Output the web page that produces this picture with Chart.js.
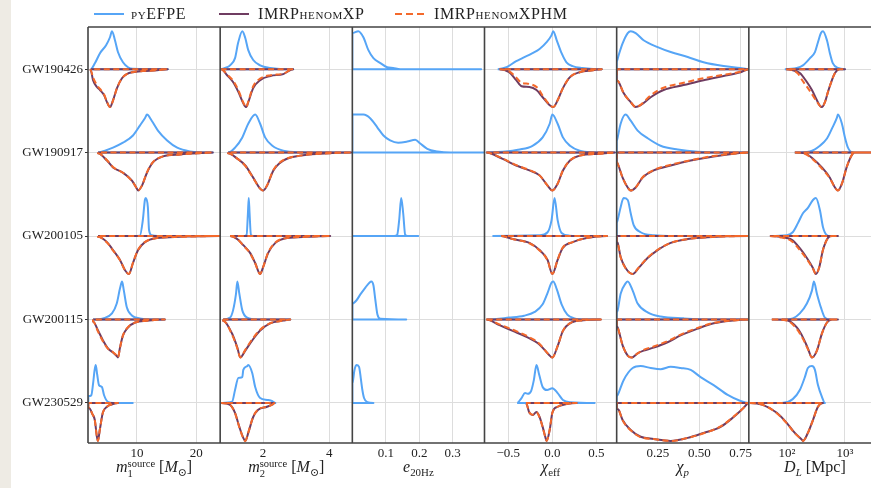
<!DOCTYPE html>
<html>
<head>
<meta charset="utf-8">
<script src="https://cdn.jsdelivr.net/npm/chart.js@4.4.1/dist/chart.umd.min.js"></script>
<style>
html, body { margin: 0; padding: 0; background: #fff; overflow: hidden; }
body { width: 871px; height: 488px; position: relative; font-family: "Liberation Serif", "DejaVu Serif", serif; color: #222; }
#strip { position: absolute; left: 0; top: 0; width: 11px; height: 488px; background: #eeebe4; z-index: 2; }
#wrap { position: absolute; left: 0; top: 0; width: 893px; height: 488px; }
.item { position: absolute; top: 4px; white-space: nowrap; line-height: 20px; font-size: 16px; letter-spacing: 0.6px; font-variant: small-caps; }
.swatch { position: absolute; top: 13px; width: 30px; height: 0; border-top: 2px solid; }
.xt { position: absolute; top: 457px; font-size: 16px; line-height: 20px; white-space: nowrap; transform: translateX(-50%); }
.xt sub { font-size: 0.68em; vertical-align: -0.35em; }
.ss { display: inline-block; vertical-align: -0.45em; font-size: 0.66em; line-height: 0.95; text-align: left; }
.ss span { display: block; }
</style>
</head>
<body>
<div id="strip"></div>
<div id="wrap"><canvas id="c" width="893" height="488"></canvas></div>
<div id="legend"></div>
<div id="titles"></div>
<script>
// events (rows) and series
const events = ['GW190426', 'GW190917', 'GW200105', 'GW200115', 'GW230529'];
const seriesNames = ['pyEFPE', 'IMRPhenomXP', 'IMRPhenomXPHM'];

// tick values / labels for each column
const m1Ticks = [10, 20];
const m2Ticks = [2, 4];
const eccTicks = [0.1, 0.2, 0.3];
const chiEffTicks = [-0.5, 0, 0.5];
const chiPTicks = [0.25, 0.5, 0.75];
const distTicks = [100, 1000];
const m1TickLabels = ['10', '20'];
const m2TickLabels = ['2', '4'];
const eccTickLabels = ['0.1', '0.2', '0.3'];
const chiEffTickLabels = ['\u22120.5', '0.0', '0.5'];
const chiPTickLabels = ['0.25', '0.50', '0.75'];
const distTickLabels = ['10\u00b2', '10\u00b3'];

// posterior densities: [parameter value, density / peak] for each event
const m1Efpe = [
  [[2.2,0],[2.93,0.16],[3.77,0.42],[4.8,0.63],[5.46,0.84],[5.8,1.0],[6.3,0.76],[6.8,0.45],[7.65,0.18],[8.5,0.05],[9.3,0.01],[15.2,0]],
  [[3.44,0],[4.62,0.05],[5.97,0.13],[7.65,0.26],[9.34,0.45],[10.5,0.71],[11.4,0.92],[11.7,1.0],[12.5,0.84],[13.55,0.58],[15.1,0.32],[16.8,0.13],[18.95,0.03],[21.1,0],[22.8,0]],
  [[9.3,0],[10.5,0.01],[11.0,0.42],[11.35,0.95],[11.5,1.0],[11.85,0.76],[12.05,0.16],[12.5,0.02],[13.5,0]],
  [[2.6,0],[4.3,0.03],[5.8,0.16],[6.6,0.42],[7.15,0.82],[7.5,1.0],[7.8,0.76],[8.3,0.32],[9.2,0.1],[10.5,0.03],[12.2,0],[14.7,0]],
  [[1.8,0.18],[2.3,0.2],[2.6,0.5],[2.85,0.85],[3.05,1.0],[3.3,0.75],[3.6,0.47],[4.1,0.42],[4.45,0.21],[5.1,0.03],[6.0,0],[9.3,0]]
];
const m1Xp = [
  [[2.2,0.03],[2.6,0.29],[3.25,0.47],[3.77,0.55],[4.45,0.68],[4.95,0.87],[5.46,1.0],[5.97,0.82],[6.64,0.5],[7.48,0.24],[8.3,0.13],[9.3,0.08],[11.0,0.05],[13.4,0.03],[15.2,0]],
  [[3.44,0.02],[4.95,0.21],[5.97,0.39],[7.65,0.53],[9.17,0.74],[10.0,0.95],[10.2,1.0],[10.85,0.87],[11.7,0.53],[12.7,0.26],[14.4,0.1],[17.3,0.05],[20.2,0.02],[22.8,0]],
  [[3.44,0.02],[4.95,0.16],[5.97,0.37],[7.15,0.63],[8.0,0.9],[8.66,1.0],[9.34,0.71],[10.2,0.37],[11.35,0.16],[13.4,0.05],[17.3,0.02],[23.9,0]],
  [[2.6,0.05],[3.44,0.29],[4.28,0.55],[5.12,0.76],[5.97,0.87],[6.64,0.97],[6.8,1.0],[7.15,0.74],[7.65,0.42],[8.5,0.21],[9.7,0.08],[11.7,0.03],[14.7,0]],
  [[1.8,0.12],[2.1,0.16],[2.45,0.28],[2.9,0.45],[3.25,0.89],[3.42,1.0],[3.75,0.7],[4.25,0.26],[4.95,0.1],[5.95,0.03],[6.8,0]]
];
const m1Xphm = [
  [[2.2,0.03],[2.6,0.22],[3.25,0.42],[3.77,0.52],[4.45,0.66],[4.95,0.86],[5.46,1.0],[5.97,0.83],[6.64,0.5],[7.48,0.24],[8.3,0.13],[9.3,0.08],[11.0,0.05],[13.4,0.03],[15.2,0]],
  [[3.44,0.02],[4.95,0.2],[5.97,0.38],[7.65,0.53],[9.17,0.75],[10.0,0.95],[10.2,1.0],[10.85,0.87],[11.7,0.52],[12.7,0.25],[14.4,0.1],[17.3,0.05],[20.2,0.02],[22.8,0]],
  [[3.44,0.02],[4.95,0.17],[5.97,0.38],[7.15,0.64],[8.0,0.9],[8.66,1.0],[9.34,0.7],[10.2,0.36],[11.35,0.16],[13.4,0.05],[17.3,0.02],[23.9,0]],
  [[2.6,0.05],[3.44,0.32],[4.28,0.58],[5.12,0.77],[5.97,0.86],[6.64,0.96],[6.8,1.0],[7.15,0.74],[7.65,0.42],[8.5,0.2],[9.7,0.08],[11.7,0.03],[14.7,0]],
  [[1.8,0.12],[2.1,0.16],[2.45,0.28],[2.9,0.46],[3.25,0.9],[3.42,1.0],[3.75,0.7],[4.25,0.26],[4.95,0.1],[5.95,0.03],[6.8,0]]
];

const m2Efpe = [
  [[0.73,0],[0.91,0.05],[1.0,0.1],[1.15,0.29],[1.24,0.68],[1.37,1.0],[1.46,0.82],[1.55,0.5],[1.7,0.24],[1.91,0.1],[2.22,0.03],[2.61,0],[2.91,0]],
  [[0.94,0],[1.15,0.13],[1.37,0.4],[1.55,0.76],[1.76,1.0],[1.91,0.76],[2.06,0.4],[2.28,0.18],[2.61,0.05],[3.12,0.01],[4.64,0]],
  [[1.4,0],[1.5,0.03],[1.54,0.6],[1.565,1.0],[1.59,0.6],[1.63,0.03],[1.75,0]],
  [[0.79,0],[1.0,0.05],[1.09,0.24],[1.18,0.68],[1.22,1.0],[1.28,0.68],[1.37,0.24],[1.52,0.05],[1.82,0],[2.82,0]],
  [[0.76,0],[1.06,0.03],[1.15,0.34],[1.25,0.66],[1.37,0.68],[1.4,0.87],[1.52,0.97],[1.55,1.0],[1.67,0.79],[1.76,0.42],[1.91,0.13],[2.12,0.08],[2.28,0.05],[2.37,0]]
];
const m2Xp = [
  [[0.73,0],[0.91,0.16],[1.09,0.34],[1.25,0.6],[1.4,0.9],[1.49,1.0],[1.55,0.87],[1.7,0.5],[1.91,0.29],[2.22,0.18],[2.61,0.13],[2.91,0]],
  [[0.94,0.02],[1.22,0.16],[1.46,0.34],[1.7,0.66],[1.91,0.95],[2.0,1.0],[2.12,0.87],[2.31,0.47],[2.61,0.21],[3.12,0.08],[3.73,0.03],[4.69,0]],
  [[1.0,0],[1.22,0.08],[1.4,0.24],[1.61,0.45],[1.76,0.71],[1.91,1.0],[2.0,0.82],[2.15,0.45],[2.37,0.18],[2.73,0.05],[3.34,0.02],[4.03,0]],
  [[0.79,0.03],[1.06,0.37],[1.22,0.74],[1.31,1.0],[1.46,0.82],[1.67,0.55],[1.91,0.29],[2.21,0.1],[2.61,0.03],[2.82,0]],
  [[0.73,0],[1.0,0.05],[1.15,0.26],[1.28,0.63],[1.4,0.92],[1.46,1.0],[1.55,0.79],[1.7,0.37],[1.85,0.18],[2.12,0.1],[2.3,0.03],[2.34,0]]
];
const m2Xphm = [
  [[0.73,0],[0.91,0.14],[1.09,0.3],[1.25,0.55],[1.4,0.88],[1.49,1.0],[1.55,0.86],[1.7,0.45],[1.91,0.25],[2.22,0.16],[2.61,0.12],[2.91,0]],
  [[0.94,0.02],[1.22,0.16],[1.46,0.35],[1.7,0.67],[1.91,0.95],[2.0,1.0],[2.12,0.86],[2.31,0.46],[2.61,0.2],[3.12,0.08],[3.73,0.03],[4.69,0]],
  [[1.0,0],[1.22,0.08],[1.4,0.25],[1.61,0.46],[1.76,0.72],[1.91,1.0],[2.0,0.82],[2.15,0.44],[2.37,0.17],[2.73,0.05],[3.34,0.02],[4.03,0]],
  [[0.79,0.03],[1.06,0.4],[1.22,0.76],[1.31,1.0],[1.46,0.8],[1.67,0.52],[1.91,0.27],[2.21,0.1],[2.61,0.03],[2.82,0]],
  [[0.73,0],[1.0,0.05],[1.15,0.27],[1.28,0.64],[1.4,0.93],[1.46,1.0],[1.55,0.78],[1.7,0.36],[1.85,0.17],[2.12,0.1],[2.3,0.03],[2.34,0]]
];

const eccEfpe = [
  [[0,0.95],[0.018,1.0],[0.033,0.84],[0.048,0.5],[0.063,0.29],[0.084,0.16],[0.104,0.05],[0.122,0.03],[0.143,0],[0.385,0]],
  [[0,1.0],[0.033,1.0],[0.054,0.9],[0.075,0.66],[0.093,0.45],[0.113,0.32],[0.137,0.26],[0.164,0.29],[0.188,0.34],[0.203,0.24],[0.224,0.1],[0.254,0.03],[0.293,0],[0.394,0]],
  [[0,0],[0.125,0],[0.134,0.03],[0.14,0.42],[0.146,1.0],[0.152,0.6],[0.158,0.03],[0.165,0],[0.197,0]],
  [[0,0.42],[0.012,0.5],[0.024,0.66],[0.039,0.84],[0.051,0.97],[0.057,1.0],[0.063,0.9],[0.069,0.5],[0.075,0.13],[0.084,0.02],[0.161,0]],
  [[0,0.5],[0.006,0.85],[0.012,1.0],[0.02,0.95],[0.026,0.6],[0.03,0.34],[0.035,0.13],[0.045,0.02],[0.063,0]]
];

const chiEffEfpe = [
  [[-0.62,0],[-0.52,0.05],[-0.41,0.21],[-0.34,0.29],[-0.225,0.42],[-0.145,0.53],[-0.065,0.71],[-0.01,0.89],[0.01,1.0],[0.05,0.76],[0.105,0.42],[0.16,0.18],[0.23,0.08],[0.34,0.03],[0.5,0],[0.56,0]],
  [[-0.75,0],[-0.57,0.02],[-0.37,0.08],[-0.225,0.18],[-0.11,0.4],[-0.03,0.76],[0.0,1.0],[0.06,0.76],[0.12,0.4],[0.2,0.18],[0.31,0.05],[0.46,0.01],[0.71,0]],
  [[-0.68,0],[-0.145,0.02],[-0.054,0.1],[-0.009,0.42],[0.025,1.0],[0.06,0.42],[0.105,0.08],[0.196,0.01],[0.39,0]],
  [[-0.74,0],[-0.49,0.05],[-0.32,0.1],[-0.2,0.2],[-0.11,0.4],[-0.054,0.7],[-0.01,0.97],[0.01,1.0],[0.05,0.8],[0.105,0.4],[0.17,0.13],[0.25,0.03],[0.37,0],[0.54,0]],
  [[-0.4,0],[-0.35,0.13],[-0.31,0.26],[-0.28,0.24],[-0.24,0.32],[-0.21,0.6],[-0.18,1.0],[-0.15,0.75],[-0.11,0.42],[-0.06,0.34],[0.0,0.39],[0.06,0.26],[0.12,0.08],[0.2,0.02],[0.48,0]]
];
const chiEffXp = [
  [[-0.6,0],[-0.49,0.08],[-0.41,0.29],[-0.35,0.45],[-0.26,0.47],[-0.18,0.55],[-0.11,0.74],[-0.03,0.95],[0.01,1.0],[0.06,0.82],[0.12,0.5],[0.2,0.21],[0.31,0.08],[0.46,0.03],[0.56,0]],
  [[-0.75,0],[-0.57,0.16],[-0.41,0.34],[-0.26,0.47],[-0.145,0.6],[-0.054,0.87],[0.0,1.0],[0.06,0.82],[0.12,0.47],[0.2,0.21],[0.31,0.08],[0.54,0.03],[0.71,0]],
  [[-0.58,0],[-0.45,0.08],[-0.26,0.18],[-0.145,0.37],[-0.054,0.63],[0.0,1.0],[0.06,0.63],[0.116,0.32],[0.23,0.16],[0.39,0.05],[0.62,0]],
  [[-0.75,0],[-0.6,0.15],[-0.45,0.3],[-0.3,0.45],[-0.15,0.65],[-0.05,0.9],[0.0,1.0],[0.06,0.7],[0.12,0.3],[0.2,0.1],[0.35,0.02],[0.55,0]],
  [[-0.3,0],[-0.26,0.26],[-0.225,0.32],[-0.18,0.24],[-0.145,0.37],[-0.11,0.63],[-0.077,0.92],[-0.065,1.0],[-0.03,0.71],[0.0,0.26],[0.06,0.1],[0.16,0.03],[0.275,0]]
];
const chiEffXphm = [
  [[-0.6,0],[-0.49,0.06],[-0.41,0.22],[-0.35,0.36],[-0.26,0.39],[-0.16,0.51],[-0.11,0.7],[-0.03,0.94],[0.01,1.0],[0.06,0.82],[0.12,0.5],[0.2,0.21],[0.31,0.08],[0.46,0.03],[0.56,0]],
  [[-0.75,0],[-0.57,0.15],[-0.41,0.33],[-0.26,0.46],[-0.145,0.6],[-0.054,0.87],[0.0,1.0],[0.06,0.82],[0.12,0.47],[0.2,0.21],[0.31,0.08],[0.54,0.03],[0.71,0]],
  [[-0.58,0],[-0.45,0.08],[-0.26,0.19],[-0.145,0.38],[-0.054,0.64],[0.0,1.0],[0.06,0.62],[0.116,0.31],[0.23,0.16],[0.39,0.05],[0.62,0]],
  [[-0.75,0],[-0.6,0.13],[-0.45,0.27],[-0.3,0.42],[-0.15,0.63],[-0.05,0.9],[0.0,1.0],[0.06,0.7],[0.12,0.3],[0.2,0.1],[0.35,0.02],[0.55,0]],
  [[-0.3,0],[-0.26,0.25],[-0.225,0.31],[-0.18,0.25],[-0.145,0.38],[-0.11,0.64],[-0.077,0.92],[-0.065,1.0],[-0.03,0.7],[0.0,0.26],[0.06,0.1],[0.16,0.03],[0.275,0]]
];

const chiPEfpe = [
  [[0,0.2],[0.012,0.37],[0.036,0.68],[0.067,0.95],[0.085,1.0],[0.115,0.95],[0.163,0.76],[0.248,0.58],[0.327,0.45],[0.43,0.32],[0.526,0.18],[0.647,0.08],[0.75,0.03],[0.8,0]],
  [[0,0.3],[0.006,0.4],[0.024,0.76],[0.054,1.0],[0.085,0.84],[0.127,0.58],[0.19,0.37],[0.266,0.18],[0.37,0.08],[0.49,0.02],[0.61,0],[0.8,0]],
  [[0,0.35],[0.006,0.42],[0.024,0.76],[0.042,1.0],[0.067,0.95],[0.085,0.6],[0.103,0.29],[0.145,0.1],[0.224,0.02],[0.345,0],[0.6,0]],
  [[0,0.2],[0.006,0.24],[0.024,0.68],[0.054,0.95],[0.067,1.0],[0.097,0.76],[0.127,0.42],[0.19,0.18],[0.266,0.08],[0.405,0.03],[0.57,0],[0.8,0]],
  [[0,0.18],[0.006,0.21],[0.042,0.6],[0.097,0.92],[0.145,0.97],[0.206,0.92],[0.266,0.89],[0.327,0.95],[0.387,0.92],[0.448,0.87],[0.508,0.68],[0.587,0.47],[0.672,0.21],[0.75,0.05],[0.8,0]]
];
const chiPXp = [
  [[0,0.3],[0.012,0.34],[0.042,0.63],[0.085,0.87],[0.115,1.0],[0.145,0.95],[0.206,0.74],[0.284,0.55],[0.405,0.42],[0.526,0.29],[0.647,0.18],[0.75,0.08],[0.8,0]],
  [[0,0.25],[0.006,0.29],[0.036,0.66],[0.067,0.92],[0.085,1.0],[0.115,0.92],[0.157,0.66],[0.224,0.47],[0.327,0.34],[0.448,0.21],[0.587,0.1],[0.708,0.03],[0.8,0]],
  [[0,0.15],[0.006,0.18],[0.024,0.55],[0.054,0.84],[0.097,1.0],[0.133,0.84],[0.187,0.58],[0.248,0.37],[0.327,0.18],[0.43,0.08],[0.55,0.03],[0.8,0]],
  [[0,0.18],[0.006,0.21],[0.036,0.68],[0.067,0.95],[0.091,1.0],[0.127,0.89],[0.163,0.82],[0.224,0.74],[0.308,0.6],[0.387,0.42],[0.49,0.24],[0.587,0.1],[0.69,0.03],[0.8,0]],
  [[0,0.15],[0.012,0.18],[0.036,0.45],[0.085,0.71],[0.145,0.89],[0.224,0.95],[0.327,1.0],[0.43,0.92],[0.526,0.79],[0.629,0.63],[0.708,0.37],[0.768,0.13],[0.8,0]]
];
const chiPXphm = [
  [[0,0.3],[0.012,0.34],[0.042,0.63],[0.085,0.87],[0.115,1.0],[0.145,0.94],[0.206,0.69],[0.284,0.49],[0.405,0.36],[0.526,0.24],[0.647,0.15],[0.75,0.07],[0.8,0]],
  [[0,0.25],[0.006,0.29],[0.036,0.66],[0.067,0.92],[0.085,1.0],[0.115,0.92],[0.157,0.65],[0.224,0.46],[0.327,0.32],[0.448,0.2],[0.587,0.09],[0.708,0.03],[0.8,0]],
  [[0,0.15],[0.006,0.18],[0.024,0.56],[0.054,0.85],[0.097,1.0],[0.133,0.83],[0.187,0.57],[0.248,0.36],[0.327,0.18],[0.43,0.08],[0.55,0.03],[0.8,0]],
  [[0,0.18],[0.006,0.21],[0.036,0.68],[0.067,0.95],[0.091,1.0],[0.127,0.89],[0.163,0.8],[0.224,0.71],[0.308,0.57],[0.387,0.4],[0.49,0.22],[0.587,0.09],[0.69,0.03],[0.8,0]],
  [[0,0.15],[0.012,0.18],[0.036,0.46],[0.085,0.72],[0.145,0.9],[0.224,0.95],[0.327,1.0],[0.43,0.92],[0.526,0.8],[0.629,0.62],[0.708,0.36],[0.768,0.13],[0.8,0]]
];

// luminosity distance in Mpc
const distEfpe = [
  [[92,0],[148,0.03],[189,0.1],[250,0.29],[304,0.45],[343,0.71],[386,0.95],[418,1.0],[490,0.76],[550,0.42],[617,0.16],[758,0.03],[1000,0]],
  [[137,0],[249,0.03],[371,0.18],[490,0.37],[597,0.63],[728,0.92],[757,1.0],[887,0.76],[1000,0.4],[1127,0.13],[1374,0]],
  [[51,0],[100,0.02],[126,0.1],[155,0.34],[189,0.6],[230,0.74],[281,0.95],[316,1.0],[371,0.68],[418,0.24],[490,0.02],[551,0]],
  [[82,0],[126,0.03],[167,0.16],[221,0.42],[270,0.76],[292,1.0],[329,0.68],[385,0.32],[452,0.05],[551,0]],
  [[82,0],[126,0.1],[167,0.34],[204,0.68],[230,0.92],[270,0.97],[304,0.87],[343,0.47],[401,0.16],[452,0]]
];
const distXp = [
  [[97,0],[127,0.03],[167,0.1],[221,0.34],[270,0.55],[329,0.82],[371,0.97],[401,1.0],[452,0.87],[510,0.6],[597,0.29],[673,0.1],[815,0],[1000,0]],
  [[137,0],[204,0.02],[281,0.16],[401,0.39],[551,0.66],[673,0.92],[757,1.0],[887,0.82],[1068,0.39],[1293,0.08],[1460,0],[4100,0]],
  [[51,0],[76,0.02],[122,0.1],[167,0.32],[221,0.58],[281,0.84],[316,1.0],[361,0.82],[418,0.37],[510,0.05],[597,0],[757,0]],
  [[55,0],[100,0.02],[148,0.21],[189,0.47],[230,0.76],[270,1.0],[329,0.82],[401,0.37],[490,0.08],[600,0],[757,0]],
  [[23,0],[38.5,0.05],[67,0.26],[100,0.53],[137,0.79],[181,0.97],[189,1.0],[230,0.79],[281,0.45],[343,0.1],[418,0]]
];
const distXphm = [
  [[97,0],[127,0.03],[155,0.12],[189,0.32],[250,0.58],[329,0.86],[401,1.0],[452,0.87],[510,0.6],[597,0.29],[673,0.1],[815,0],[1000,0]],
  [[137,0],[204,0.03],[281,0.18],[401,0.42],[551,0.68],[673,0.92],[757,1.0],[887,0.82],[1068,0.39],[1293,0.08],[1460,0],[4100,0]],
  [[51,0],[76,0.03],[122,0.14],[167,0.37],[221,0.61],[281,0.86],[316,1.0],[361,0.82],[418,0.37],[510,0.05],[597,0],[757,0]],
  [[55,0],[100,0.03],[148,0.25],[189,0.51],[230,0.78],[270,1.0],[329,0.82],[401,0.37],[490,0.08],[600,0],[757,0]],
  [[23,0],[38.5,0.05],[67,0.27],[100,0.54],[137,0.8],[181,0.97],[189,1.0],[230,0.79],[281,0.45],[343,0.1],[418,0]]
];

const axisTitles = [
  '<i>m</i><span class="ss"><span>source</span><span>1</span></span> [<i>M</i><sub>\u2299</sub>]',
  '<i>m</i><span class="ss"><span>source</span><span>2</span></span> [<i>M</i><sub>\u2299</sub>]',
  '<i>e</i><sub>20Hz</sub>',
  '<i>\u03c7</i><sub>eff</sub>',
  '<i>\u03c7</i><sub><i>p</i></sub>',
  '<i>D</i><sub><i>L</i></sub> [Mpc]'
];

const colors = ['#56a5f6', '#6f3c61', '#f4692b'];
const HALF = 0.455;   // half-height of a violin, in row units

const columns = [
  {type: 'linear', min: 1.75, max: 24.05, ticks: m1Ticks, labels: m1TickLabels, series: [m1Efpe, m1Xp, m1Xphm]},
  {type: 'linear', min: 0.7, max: 4.7, ticks: m2Ticks, labels: m2TickLabels, series: [m2Efpe, m2Xp, m2Xphm]},
  {type: 'linear', min: 0, max: 0.395, ticks: eccTicks, labels: eccTickLabels, series: [eccEfpe, null, null]},
  {type: 'linear', min: -0.77, max: 0.73, ticks: chiEffTicks, labels: chiEffTickLabels, series: [chiEffEfpe, chiEffXp, chiEffXphm]},
  {type: 'linear', min: 0, max: 0.8, ticks: chiPTicks, labels: chiPTickLabels, series: [chiPEfpe, chiPXp, chiPXphm]},
  {type: 'logarithmic', min: 22.1, max: 4180, ticks: distTicks, labels: distTickLabels, series: [distEfpe, distXp, distXphm]}
];

// outline of one half violin: up the density curve, back along the centre line
function halfViolin(pairs, row, side) {
  const c = row + 1;
  const first = pairs[0][0], last = pairs[pairs.length - 1][0];
  const pts = [{x: first, y: c}];
  pairs.forEach(p => pts.push({x: p[0], y: c + side * HALF * p[1]}));
  pts.push({x: last, y: c});
  pts.push({x: first, y: c});
  return pts;
}

const datasets = [];
columns.forEach((col, k) => {
  col.series.forEach((rows, s) => {
    if (!rows) return;
    rows.forEach((pairs, r) => {
      datasets.push({
        label: seriesNames[s],
        data: halfViolin(pairs, r, s === 0 ? -1 : 1),
        xAxisID: 'x' + k,
        yAxisID: 'y',
        borderColor: colors[s],
        borderWidth: 2,
        borderDash: s === 2 ? [6, 3.5] : [],
        pointRadius: 0,
        fill: false,
        cubicInterpolationMode: 'monotone',
        borderJoinStyle: 'round',
        order: 2 - s
      });
    });
  });
});

const tickFont = {family: '"Liberation Serif", serif', size: 13};
const gridColor = '#dddddd';

const scales = {
  y: {
    type: 'linear', min: 0.495, max: 5.48, reverse: true,
    afterBuildTicks: s => { s.ticks = events.map((e, i) => ({value: i + 1})); },
    afterFit: s => { s.width = 88; },
    ticks: {callback: v => events[v - 1], font: tickFont, color: '#222', padding: 2},
    grid: {color: gridColor, tickLength: 3, tickColor: '#333'},
    border: {display: false}
  }
};
columns.forEach((col, k) => {
  scales['x' + k] = {
    type: col.type, position: 'bottom', stack: 'cols', stackWeight: 1,
    min: col.min, max: col.max,
    afterBuildTicks: s => { s.ticks = col.ticks.map(v => ({value: v})); },
    afterFit: s => { s.height = 45; },
    ticks: {callback: (v, i) => col.labels[i], font: tickFont, color: '#222', padding: 3, maxRotation: 0, autoSkip: false},
    grid: {color: gridColor, drawTicks: false},
    border: {display: false}
  };
});

// dark frame and column separators
const framePlugin = {
  id: 'frame',
  afterDatasetsDraw(chart) {
    const {ctx, chartArea: a} = chart;
    ctx.save();
    ctx.strokeStyle = '#444';
    ctx.lineWidth = 1.6;
    ctx.beginPath();
    ctx.moveTo(a.left, a.top); ctx.lineTo(a.right, a.top);
    ctx.moveTo(a.left, a.bottom); ctx.lineTo(a.right, a.bottom);
    Object.values(chart.scales).filter(s => s.axis === 'x').forEach(s => {
      ctx.moveTo(s.left, a.top); ctx.lineTo(s.left, a.bottom);
    });
    ctx.moveTo(a.right, a.top); ctx.lineTo(a.right, a.bottom);
    ctx.stroke();
    ctx.restore();
  }
};

const chart = new Chart(document.getElementById('c'), {
  type: 'line',
  data: {datasets},
  options: {
    responsive: false,
    animation: false,
    devicePixelRatio: 1,
    layout: {padding: {top: 27, right: 12, left: 0, bottom: 0}, autoPadding: false},
    plugins: {legend: {display: false}, tooltip: {enabled: false}},
    scales
  },
  plugins: [framePlugin]
});

// legend
const legend = document.getElementById('legend');
const legendPos = [[94, 131], [219, 258], [395, 434]];
seriesNames.forEach((name, s) => {
  const sw = document.createElement('div');
  sw.className = 'swatch';
  sw.style.left = legendPos[s][0] + 'px';
  sw.style.borderTopColor = colors[s];
  if (s === 2) {
    sw.style.borderTop = 'none';
    sw.style.height = '2px';
    sw.style.background = 'repeating-linear-gradient(90deg,' + colors[s] + ' 0 7px, transparent 7px 11px)';
  }
  legend.appendChild(sw);
  const t = document.createElement('div');
  t.className = 'item';
  t.style.left = legendPos[s][1] + 'px';
  t.textContent = name;
  legend.appendChild(t);
});

// axis titles under each column
const titles = document.getElementById('titles');
columns.forEach((col, k) => {
  const s = chart.scales['x' + k];
  const d = document.createElement('div');
  d.className = 'xt';
  d.style.left = ((s.left + s.right) / 2) + 'px';
  d.innerHTML = axisTitles[k];
  titles.appendChild(d);
});
</script>
</body>
</html>
